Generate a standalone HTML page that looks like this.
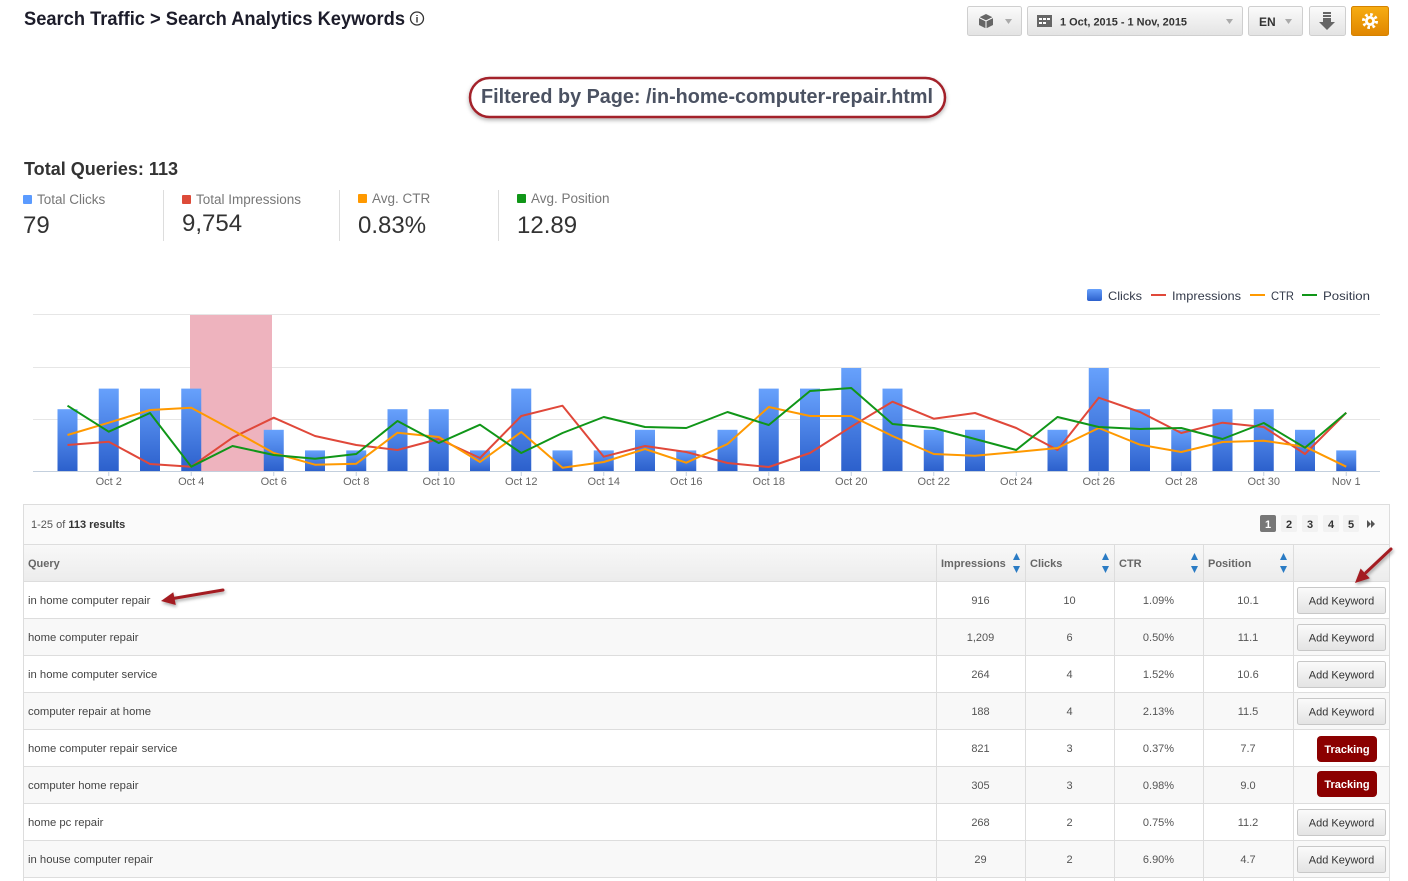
<!DOCTYPE html>
<html><head><meta charset="utf-8"><style>
html,body{margin:0;padding:0;background:#fff;}
svg{display:block;font-family:"Liberation Sans",Arial,sans-serif;}
</style></head><body>
<svg width="1408" height="881" viewBox="0 0 1408 881" xmlns="http://www.w3.org/2000/svg">
<defs>
<linearGradient id="btn" x1="0" y1="0" x2="0" y2="1"><stop offset="0" stop-color="#fbfbfb"/><stop offset="1" stop-color="#e3e3e3"/></linearGradient>
<linearGradient id="org" x1="0" y1="0" x2="0" y2="1"><stop offset="0" stop-color="#f7ad12"/><stop offset="1" stop-color="#e08600"/></linearGradient>
<linearGradient id="bar" x1="0" y1="0" x2="0" y2="1"><stop offset="0" stop-color="#67a1fc"/><stop offset="1" stop-color="#2c60cc"/></linearGradient>
<linearGradient id="thead" x1="0" y1="0" x2="0" y2="1"><stop offset="0" stop-color="#f8f8f8"/><stop offset="1" stop-color="#ececec"/></linearGradient>
<filter id="sh" x="-10%" y="-30%" width="120%" height="170%"><feDropShadow dx="0" dy="2" stdDeviation="2" flood-color="#000" flood-opacity="0.3"/></filter>
<filter id="ash" x="-30%" y="-30%" width="160%" height="160%"><feDropShadow dx="1" dy="2" stdDeviation="1.5" flood-color="#000" flood-opacity="0.35"/></filter>
</defs>

<!-- Header -->
<text x="24" y="25" font-size="19" font-weight="bold" fill="#1c1c2a" textLength="381" lengthAdjust="spacingAndGlyphs">Search Traffic &gt; Search Analytics Keywords</text>
<circle cx="417" cy="18.5" r="6.5" fill="none" stroke="#333" stroke-width="1.3"/>
<text x="417" y="22.5" font-size="10" font-weight="bold" fill="#333" text-anchor="middle">i</text>

<!-- Top buttons -->
<rect x="967.5" y="6.5" width="54" height="29" rx="2" fill="url(#btn)" stroke="#cfcfcf"/>
<polygon points="986,14 993,17.5 993,25 986,28.5 979,25 979,17.5" fill="#666"/>
<polyline points="979,17.5 986,21 993,17.5" fill="none" stroke="#fff" stroke-width="1"/>
<line x1="986" y1="21" x2="986" y2="28.5" stroke="#fff" stroke-width="1"/>
<polygon points="1005,19 1012,19 1008.5,24" fill="#aaa"/>

<rect x="1027.5" y="6.5" width="215" height="29" rx="2" fill="url(#btn)" stroke="#cfcfcf"/>
<rect x="1037" y="15" width="15" height="12" fill="#666"/>
<g fill="#fff"><rect x="1039" y="18" width="3" height="2"/><rect x="1043" y="18" width="3" height="2"/><rect x="1047" y="18" width="3" height="2"/><rect x="1039" y="22" width="3" height="2"/><rect x="1043" y="22" width="3" height="2"/></g>
<text x="1060" y="25.5" font-size="11" font-weight="bold" fill="#333" textLength="127" lengthAdjust="spacingAndGlyphs">1 Oct, 2015 - 1 Nov, 2015</text>
<polygon points="1226,19 1233,19 1229.5,24" fill="#aaa"/>

<rect x="1248.5" y="6.5" width="54" height="29" rx="2" fill="url(#btn)" stroke="#cfcfcf"/>
<text x="1259" y="26" font-size="12" font-weight="bold" fill="#333">EN</text>
<polygon points="1285,19 1292,19 1288.5,24" fill="#aaa"/>

<rect x="1309.5" y="6.5" width="36" height="29" rx="2" fill="url(#btn)" stroke="#cfcfcf"/>
<g fill="#666"><rect x="1323" y="12" width="8" height="2"/><rect x="1323" y="15" width="8" height="2"/><rect x="1323" y="18" width="8" height="4"/><polygon points="1319,22 1335,22 1327,30"/></g>

<rect x="1351.5" y="6.5" width="37" height="29" rx="2" fill="url(#org)" stroke="#d48200"/>
<circle cx="1370" cy="21" r="5" fill="#fff"/>
<circle cx="1370" cy="21" r="6.5" fill="none" stroke="#fff" stroke-width="3" stroke-dasharray="2.55 2.55"/>
<circle cx="1370" cy="21" r="2.2" fill="#ec9a06"/>

<!-- Filter oval -->
<rect x="470" y="78" width="475" height="39" rx="19.5" fill="#fff" stroke="#a3202a" stroke-width="2.5" filter="url(#sh)"/>
<text x="707" y="103" font-size="20" font-weight="bold" fill="#4b5262" text-anchor="middle" textLength="452" lengthAdjust="spacingAndGlyphs">Filtered by Page: /in-home-computer-repair.html</text>

<!-- Totals -->
<text x="24" y="175" font-size="18" font-weight="bold" fill="#333" textLength="154" lengthAdjust="spacingAndGlyphs">Total Queries: 113</text>

<rect x="23" y="195" width="9" height="9" rx="1" fill="#5b9bff"/>
<text x="37" y="204" font-size="13.5" fill="#777">Total Clicks</text>
<text x="23" y="233" font-size="24" fill="#333">79</text>
<line x1="163.5" y1="190" x2="163.5" y2="241" stroke="#ddd"/>

<rect x="182" y="195" width="9" height="9" rx="1" fill="#dd4b39"/>
<text x="196" y="204" font-size="13.5" fill="#777">Total Impressions</text>
<text x="182" y="231" font-size="24" fill="#333">9,754</text>
<line x1="339.5" y1="190" x2="339.5" y2="241" stroke="#ddd"/>

<rect x="358" y="194" width="9" height="9" rx="1" fill="#ff9900"/>
<text x="372" y="203" font-size="13.5" fill="#777">Avg. CTR</text>
<text x="358" y="233" font-size="24" fill="#333">0.83%</text>
<line x1="498.5" y1="190" x2="498.5" y2="241" stroke="#ddd"/>

<rect x="517" y="194" width="9" height="9" rx="1" fill="#109618"/>
<text x="531" y="203" font-size="13.5" fill="#777">Avg. Position</text>
<text x="517" y="233" font-size="24" fill="#333">12.89</text>

<!-- Legend -->
<rect x="1087" y="289" width="15" height="12" rx="2" fill="url(#bar)"/>
<text x="1108" y="300" font-size="12" fill="#333a4a" textLength="34" lengthAdjust="spacingAndGlyphs">Clicks</text>
<line x1="1151" y1="295" x2="1166" y2="295" stroke="#e0483a" stroke-width="2"/>
<text x="1172" y="300" font-size="12" fill="#333a4a" textLength="69" lengthAdjust="spacingAndGlyphs">Impressions</text>
<line x1="1250" y1="295" x2="1265" y2="295" stroke="#ff9900" stroke-width="2"/>
<text x="1271" y="300" font-size="12" fill="#333a4a" textLength="23" lengthAdjust="spacingAndGlyphs">CTR</text>
<line x1="1302" y1="295" x2="1317" y2="295" stroke="#109618" stroke-width="2"/>
<text x="1323" y="300" font-size="12" fill="#333a4a" textLength="47" lengthAdjust="spacingAndGlyphs">Position</text>

<!-- Chart grid -->
<g stroke="#e6e6e6" stroke-width="1">
<line x1="33" y1="314.5" x2="1380" y2="314.5"/>
<line x1="33" y1="367.5" x2="1380" y2="367.5"/>
<line x1="33" y1="419.5" x2="1380" y2="419.5"/>
</g>
<rect x="190" y="315" width="82" height="156" fill="#eeb3be"/>

<!-- Bars -->
<g fill="url(#bar)">
<rect x="57.5" y="409.2" width="20" height="61.8"/>
<rect x="98.75" y="388.6" width="20" height="82.4"/>
<rect x="140" y="388.6" width="20" height="82.4"/>
<rect x="181.25" y="388.6" width="20" height="82.4"/>
<rect x="263.75" y="429.8" width="20" height="41.2"/>
<rect x="305" y="450.4" width="20" height="20.6"/>
<rect x="346.25" y="450.4" width="20" height="20.6"/>
<rect x="387.5" y="409.2" width="20" height="61.8"/>
<rect x="428.75" y="409.2" width="20" height="61.8"/>
<rect x="470" y="450.4" width="20" height="20.6"/>
<rect x="511.25" y="388.6" width="20" height="82.4"/>
<rect x="552.5" y="450.4" width="20" height="20.6"/>
<rect x="593.75" y="450.4" width="20" height="20.6"/>
<rect x="635" y="429.8" width="20" height="41.2"/>
<rect x="676.25" y="450.4" width="20" height="20.6"/>
<rect x="717.5" y="429.8" width="20" height="41.2"/>
<rect x="758.75" y="388.6" width="20" height="82.4"/>
<rect x="800" y="388.6" width="20" height="82.4"/>
<rect x="841.25" y="368" width="20" height="103"/>
<rect x="882.5" y="388.6" width="20" height="82.4"/>
<rect x="923.75" y="429.8" width="20" height="41.2"/>
<rect x="965" y="429.8" width="20" height="41.2"/>
<rect x="1047.5" y="429.8" width="20" height="41.2"/>
<rect x="1088.75" y="368" width="20" height="103"/>
<rect x="1130" y="409.2" width="20" height="61.8"/>
<rect x="1171.25" y="429.8" width="20" height="41.2"/>
<rect x="1212.5" y="409.2" width="20" height="61.8"/>
<rect x="1253.75" y="409.2" width="20" height="61.8"/>
<rect x="1295" y="429.8" width="20" height="41.2"/>
<rect x="1336.25" y="450.4" width="20" height="20.6"/>
</g>

<!-- Lines -->
<g fill="none" stroke-width="2" stroke-linejoin="round">
<polyline stroke="#e0483a" points="67.5,445 108.75,441.7 150,464 191.25,466.7 232.5,437.7 273.75,417.7 315,436 356.25,445 397.5,450 438.75,439 480,458 521.25,416 562.5,405.7 603.75,456.7 645,446 686.25,452 727.5,463 768.75,467 810,453 851.25,426.7 892.5,401.7 933.75,418.7 975,413 1016.25,428 1057.5,450 1098.75,397.7 1140,412 1181.25,433 1222.5,422.7 1263.75,427 1305,454 1346.25,412.7"/>
<polyline stroke="#ff9900" points="67.5,435 108.75,422.7 150,410 191.25,407.7 232.5,430 273.75,453 315,464.7 356.25,463.7 397.5,432.7 438.75,437 480,462 521.25,432 562.5,467.7 603.75,462 645,449 686.25,462.7 727.5,444 768.75,407 810,416 851.25,416 892.5,436 933.75,454 975,455.7 1016.25,452 1057.5,448 1098.75,428 1140,444.7 1181.25,452 1222.5,442 1263.75,440.7 1305,446.7 1346.25,466.7"/>
<polyline stroke="#109618" points="67.5,405.7 108.75,431.7 150,413 191.25,466.7 232.5,446 273.75,455 315,458.7 356.25,454 397.5,421 438.75,443 480,424.7 521.25,453 562.5,433 603.75,417 645,427 686.25,428 727.5,412 768.75,425 810,391 851.25,388 892.5,424 933.75,428 975,439 1016.25,450 1057.5,417 1098.75,427 1140,429 1181.25,428 1222.5,439 1263.75,423 1305,447.7 1346.25,412.7"/>
</g>

<!-- Axis -->
<line x1="33" y1="471.5" x2="1380" y2="471.5" stroke="#c3cfdd"/>
<g stroke="#c3cfdd">
<line x1="108.75" y1="471" x2="108.75" y2="476"/><line x1="191.25" y1="471" x2="191.25" y2="476"/><line x1="273.75" y1="471" x2="273.75" y2="476"/><line x1="356.25" y1="471" x2="356.25" y2="476"/><line x1="438.75" y1="471" x2="438.75" y2="476"/><line x1="521.25" y1="471" x2="521.25" y2="476"/><line x1="603.75" y1="471" x2="603.75" y2="476"/><line x1="686.25" y1="471" x2="686.25" y2="476"/><line x1="768.75" y1="471" x2="768.75" y2="476"/><line x1="851.25" y1="471" x2="851.25" y2="476"/><line x1="933.75" y1="471" x2="933.75" y2="476"/><line x1="1016.25" y1="471" x2="1016.25" y2="476"/><line x1="1098.75" y1="471" x2="1098.75" y2="476"/><line x1="1181.25" y1="471" x2="1181.25" y2="476"/><line x1="1263.75" y1="471" x2="1263.75" y2="476"/><line x1="1346.25" y1="471" x2="1346.25" y2="476"/>
</g>
<g font-size="11" fill="#666" text-anchor="middle">
<text x="108.75" y="485">Oct 2</text><text x="191.25" y="485">Oct 4</text><text x="273.75" y="485">Oct 6</text><text x="356.25" y="485">Oct 8</text><text x="438.75" y="485">Oct 10</text><text x="521.25" y="485">Oct 12</text><text x="603.75" y="485">Oct 14</text><text x="686.25" y="485">Oct 16</text><text x="768.75" y="485">Oct 18</text><text x="851.25" y="485">Oct 20</text><text x="933.75" y="485">Oct 22</text><text x="1016.25" y="485">Oct 24</text><text x="1098.75" y="485">Oct 26</text><text x="1181.25" y="485">Oct 28</text><text x="1263.75" y="485">Oct 30</text><text x="1346.25" y="485">Nov 1</text>
</g>

<!-- Table -->
<rect x="23.5" y="504.5" width="1366" height="40" fill="#fafafa"/>
<rect x="23.5" y="544.5" width="1366" height="37" fill="url(#thead)"/>
<g fill="#f8f8f8">
<rect x="24" y="618.5" width="1365" height="37"/>
<rect x="24" y="692.5" width="1365" height="37"/>
<rect x="24" y="766.5" width="1365" height="37"/>
<rect x="24" y="840.5" width="1365" height="37"/>
</g>
<g stroke="#dddddd" fill="none">
<rect x="23.5" y="504.5" width="1366" height="390"/>
<line x1="23.5" y1="544.5" x2="1389.5" y2="544.5"/>
<line x1="23.5" y1="581.5" x2="1389.5" y2="581.5"/>
<line x1="23.5" y1="618.5" x2="1389.5" y2="618.5"/>
<line x1="23.5" y1="655.5" x2="1389.5" y2="655.5"/>
<line x1="23.5" y1="692.5" x2="1389.5" y2="692.5"/>
<line x1="23.5" y1="729.5" x2="1389.5" y2="729.5"/>
<line x1="23.5" y1="766.5" x2="1389.5" y2="766.5"/>
<line x1="23.5" y1="803.5" x2="1389.5" y2="803.5"/>
<line x1="23.5" y1="840.5" x2="1389.5" y2="840.5"/>
<line x1="23.5" y1="877.5" x2="1389.5" y2="877.5"/>
<line x1="936.5" y1="544" x2="936.5" y2="881"/>
<line x1="1025.5" y1="544" x2="1025.5" y2="881"/>
<line x1="1114.5" y1="544" x2="1114.5" y2="881"/>
<line x1="1203.5" y1="544" x2="1203.5" y2="881"/>
<line x1="1293.5" y1="544" x2="1293.5" y2="881"/>
</g>

<text x="31" y="528" font-size="11" fill="#555">1-25 of <tspan font-weight="bold" fill="#333">113 results</tspan></text>
<rect x="1260" y="515" width="16" height="17" rx="2" fill="#777"/>
<text x="1268" y="528" font-size="11" font-weight="bold" fill="#fff" text-anchor="middle">1</text>
<g fill="#f2f2f2"><rect x="1281" y="515" width="16" height="17" rx="2"/><rect x="1302" y="515" width="16" height="17" rx="2"/><rect x="1323" y="515" width="16" height="17" rx="2"/><rect x="1343" y="515" width="16" height="17" rx="2"/></g>
<g font-size="11" font-weight="bold" fill="#333" text-anchor="middle">
<text x="1289" y="528">2</text><text x="1310" y="528">3</text><text x="1331" y="528">4</text><text x="1351" y="528">5</text>
</g>
<g fill="#555"><polygon points="1367,520 1371,524 1367,528"/><polygon points="1371,520 1375,524 1371,528"/></g>

<g font-size="11" font-weight="bold" fill="#666">
<text x="28" y="567">Query</text>
<text x="941" y="567">Impressions</text>
<text x="1030" y="567">Clicks</text>
<text x="1119" y="567">CTR</text>
<text x="1208" y="567">Position</text>
</g>
<g fill="#2a7bc4">
<polygon points="1013,560 1020,560 1016.5,553"/><polygon points="1013,566 1020,566 1016.5,573"/>
<polygon points="1102,560 1109,560 1105.5,553"/><polygon points="1102,566 1109,566 1105.5,573"/>
<polygon points="1191,560 1198,560 1194.5,553"/><polygon points="1191,566 1198,566 1194.5,573"/>
<polygon points="1280,560 1287,560 1283.5,553"/><polygon points="1280,566 1287,566 1283.5,573"/>
</g>

<g font-size="11.3" fill="#444">
<text x="28" y="604">in home computer repair</text>
<text x="28" y="641">home computer repair</text>
<text x="28" y="678">in home computer service</text>
<text x="28" y="715">computer repair at home</text>
<text x="28" y="752">home computer repair service</text>
<text x="28" y="789">computer home repair</text>
<text x="28" y="826">home pc repair</text>
<text x="28" y="863">in house computer repair</text>
</g>
<g font-size="11" fill="#555" text-anchor="middle">
<text x="980.5" y="604">916</text><text x="1069.5" y="604">10</text><text x="1158.5" y="604">1.09%</text><text x="1248" y="604">10.1</text>
<text x="980.5" y="641">1,209</text><text x="1069.5" y="641">6</text><text x="1158.5" y="641">0.50%</text><text x="1248" y="641">11.1</text>
<text x="980.5" y="678">264</text><text x="1069.5" y="678">4</text><text x="1158.5" y="678">1.52%</text><text x="1248" y="678">10.6</text>
<text x="980.5" y="715">188</text><text x="1069.5" y="715">4</text><text x="1158.5" y="715">2.13%</text><text x="1248" y="715">11.5</text>
<text x="980.5" y="752">821</text><text x="1069.5" y="752">3</text><text x="1158.5" y="752">0.37%</text><text x="1248" y="752">7.7</text>
<text x="980.5" y="789">305</text><text x="1069.5" y="789">3</text><text x="1158.5" y="789">0.98%</text><text x="1248" y="789">9.0</text>
<text x="980.5" y="826">268</text><text x="1069.5" y="826">2</text><text x="1158.5" y="826">0.75%</text><text x="1248" y="826">11.2</text>
<text x="980.5" y="863">29</text><text x="1069.5" y="863">2</text><text x="1158.5" y="863">6.90%</text><text x="1248" y="863">4.7</text>
</g>

<!-- Action buttons -->
<g fill="url(#btn)" stroke="#c8c8c8">
<rect x="1297.5" y="587.5" width="88" height="26" rx="2"/>
<rect x="1297.5" y="624.5" width="88" height="26" rx="2"/>
<rect x="1297.5" y="661.5" width="88" height="26" rx="2"/>
<rect x="1297.5" y="698.5" width="88" height="26" rx="2"/>
<rect x="1297.5" y="809.5" width="88" height="26" rx="2"/>
<rect x="1297.5" y="846.5" width="88" height="26" rx="2"/>
</g>
<g font-size="11" fill="#333" text-anchor="middle">
<text x="1341.5" y="604.5">Add Keyword</text>
<text x="1341.5" y="641.5">Add Keyword</text>
<text x="1341.5" y="678.5">Add Keyword</text>
<text x="1341.5" y="715.5">Add Keyword</text>
<text x="1341.5" y="826.5">Add Keyword</text>
<text x="1341.5" y="863.5">Add Keyword</text>
</g>
<rect x="1317" y="736" width="60" height="26" rx="4" fill="#8b0000"/>
<rect x="1317" y="771" width="60" height="26" rx="4" fill="#8b0000"/>
<g font-size="11" font-weight="bold" fill="#fff" text-anchor="middle">
<text x="1347" y="753">Tracking</text>
<text x="1347" y="788">Tracking</text>
</g>

<!-- Red arrows -->
<g filter="url(#ash)">
<line x1="223" y1="590" x2="173" y2="598.5" stroke="#a41e22" stroke-width="3" stroke-linecap="round"/>
<polygon points="161,601 175.8,605 173.3,592.2" fill="#a41e22"/>
<line x1="1391" y1="549" x2="1366" y2="572.5" stroke="#a41e22" stroke-width="3" stroke-linecap="round"/>
<polygon points="1355,583 1369.8,578.3 1360.6,568.5" fill="#a41e22"/>
</g>
</svg>
</body></html>
